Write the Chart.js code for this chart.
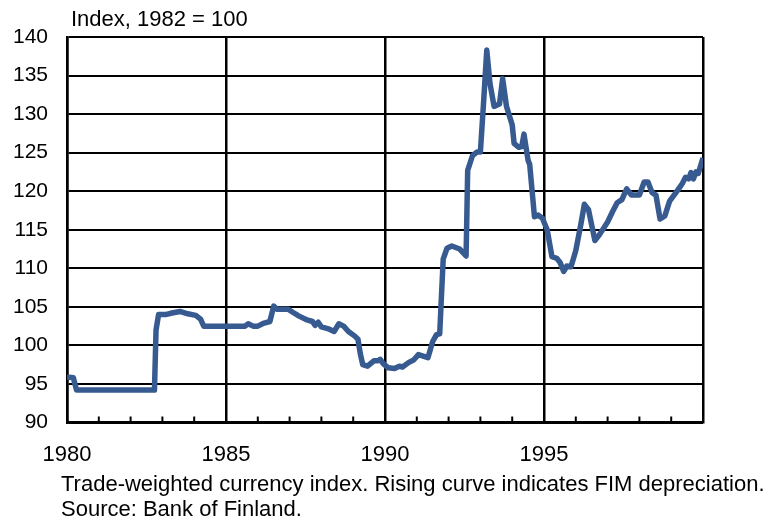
<!DOCTYPE html>
<html>
<head>
<meta charset="utf-8">
<script src="https://cdn.jsdelivr.net/npm/chart.js@4"></script>
<style>
  body { margin: 0; background: #fff; }
  #wrap { position: relative; width: 775px; height: 522px; font-family: "Liberation Sans", Arial, sans-serif; color: #000; }
  #chart { position: absolute; left: 0; top: 0; }
  .txt { position: absolute; font-size: 22px; white-space: nowrap; line-height: 25px; }
</style>
</head>
<body>
<div id="wrap">
  <canvas id="chart" width="775" height="522"></canvas>
  <div class="txt" id="unit" style="left:71px; top:6px;">Index, 1982 = 100</div>
  <div class="txt" id="note" style="left:61px; top:471px;">Trade-weighted currency index. Rising curve indicates FIM depreciation.<br>Source: Bank of Finland.</div>
</div>
<script>
// time (decimal years) and index values
const years = [
    1980.0, 1980.2, 1980.3, 1982.75, 1982.8, 1982.88, 1983.1, 1983.3, 1983.55, 1983.8,
    1984.05, 1984.2, 1984.3, 1985.0, 1985.6, 1985.7, 1985.85, 1986.0, 1986.2, 1986.38,
    1986.5, 1986.6, 1986.95, 1987.1, 1987.3, 1987.55, 1987.72, 1987.8, 1987.9, 1988.0,
    1988.25, 1988.4, 1988.55, 1988.7, 1988.85, 1989.05, 1989.15, 1989.22, 1989.3, 1989.45,
    1989.65, 1989.78, 1989.85, 1989.95, 1990.1, 1990.3, 1990.45, 1990.55, 1990.75, 1990.9,
    1991.05, 1991.2, 1991.35, 1991.5, 1991.62, 1991.72, 1991.83, 1991.95, 1992.1, 1992.35,
    1992.55, 1992.6, 1992.75, 1992.9, 1993.0, 1993.1, 1993.2, 1993.3, 1993.43, 1993.6,
    1993.7, 1993.82, 1994.0, 1994.06, 1994.2, 1994.3, 1994.37, 1994.5, 1994.55, 1994.7,
    1994.82, 1994.95, 1995.1, 1995.25, 1995.4, 1995.5, 1995.62, 1995.72, 1995.85, 1996.0,
    1996.15, 1996.27, 1996.4, 1996.6, 1996.75, 1997.0, 1997.15, 1997.3, 1997.45, 1997.6,
    1997.75, 1998.0, 1998.15, 1998.27, 1998.4, 1998.52, 1998.65, 1998.8, 1998.95, 1999.2,
    1999.35, 1999.45, 1999.55, 1999.62, 1999.7, 1999.78, 1999.85, 2000.0
];
const indexValues = [
    95.9, 95.8, 94.2, 94.2, 102.0, 104.0, 104.0, 104.2, 104.4, 104.1,
    103.9, 103.4, 102.5, 102.5, 102.5, 102.8, 102.5, 102.5, 102.9, 103.1,
    105.1, 104.7, 104.7, 104.3, 103.8, 103.3, 103.1, 102.6, 103.0, 102.4,
    102.1, 101.8, 102.8, 102.5, 101.8, 101.2, 100.8, 99.0, 97.5, 97.3,
    98.0, 98.0, 98.2, 97.6, 97.1, 97.0, 97.3, 97.2, 97.8, 98.1,
    98.8, 98.6, 98.4, 100.5, 101.4, 101.5, 111.2, 112.6, 112.9, 112.5,
    111.6, 122.7, 124.6, 125.1, 125.1, 131.5, 138.3, 134.0, 131.0, 131.3,
    134.6, 131.0, 128.6, 126.2, 125.7, 125.8, 127.4, 124.0, 123.5, 116.7,
    116.9, 116.5, 115.0, 111.5, 111.3, 110.8, 109.6, 110.3, 110.2, 112.3,
    115.5, 118.3, 117.6, 113.6, 114.4, 116.0, 117.3, 118.5, 118.9, 120.3,
    119.5, 119.5, 121.2, 121.2, 119.8, 119.5, 116.4, 116.8, 118.7, 120.1,
    121.0, 121.8, 121.6, 122.4, 121.6, 122.5, 122.3, 124.3
];
const yTicks = [90, 95, 100, 105, 110, 115, 120, 125, 130, 135, 140];
const xLabels = [1980, 1985, 1990, 1995];

// small year ticks drawn upward from the bottom axis
const minorTicks = {
    id: 'minorTicks',
    beforeDatasetsDraw(chart) {
        const ctx = chart.ctx;
        const xs = chart.scales.x;
        const bottom = chart.chartArea.bottom;
        ctx.save();
        ctx.strokeStyle = '#000';
        ctx.lineWidth = 2;
        for (let yr = 1981; yr < 2000; yr++) {
            if (yr % 5 === 0) continue;
            const px = xs.getPixelForValue(yr);
            ctx.beginPath();
            ctx.moveTo(px, bottom);
            ctx.lineTo(px, bottom - 6);
            ctx.stroke();
        }
        ctx.restore();
    }
};

const ctx = document.getElementById('chart').getContext('2d');
new Chart(ctx, {
    type: 'line',
    data: {
        datasets: [{
            data: years.map((x, i) => ({ x: x, y: indexValues[i] })),
            borderColor: '#375B91',
            borderWidth: 5.5,
            borderJoinStyle: 'round',
            pointRadius: 0,
            tension: 0,
            fill: false
        }]
    },
    options: {
        responsive: false,
        animation: false,
        events: [],
        layout: { padding: { left: 0, top: 37, right: 72, bottom: 0 } },
        plugins: {
            legend: { display: false },
            title: { display: false },
            tooltip: { enabled: false }
        },
        scales: {
            x: {
                type: 'linear',
                min: 1980,
                max: 2000,
                afterBuildTicks: (scale) => {
                    scale.ticks = [1980, 1985, 1990, 1995, 2000].map(v => ({ value: v }));
                },
                afterFit: (scale) => { scale.height = 99.5; },
                ticks: {
                    autoSkip: false,
                    maxRotation: 0,
                    padding: 19,
                    color: '#000',
                    font: { family: '"Liberation Sans", Arial, sans-serif', size: 22 },
                    callback: (v) => xLabels.includes(v) ? String(v) : ''
                },
                grid: { color: '#000', lineWidth: 2.5, drawTicks: false },
                border: { color: '#000', width: 2.5 }
            },
            y: {
                min: 90,
                max: 140,
                afterBuildTicks: (scale) => {
                    scale.ticks = yTicks.map(v => ({ value: v }));
                },
                afterFit: (scale) => { scale.width = 67; },
                ticks: {
                    padding: 19,
                    color: '#000',
                    font: { family: '"Liberation Sans", Arial, sans-serif', size: 21 }
                },
                grid: { color: '#000', lineWidth: 2, drawTicks: false },
                border: { color: '#000', width: 2.5 }
            }
        }
    },
    plugins: [minorTicks]
});
</script>
</body>
</html>
